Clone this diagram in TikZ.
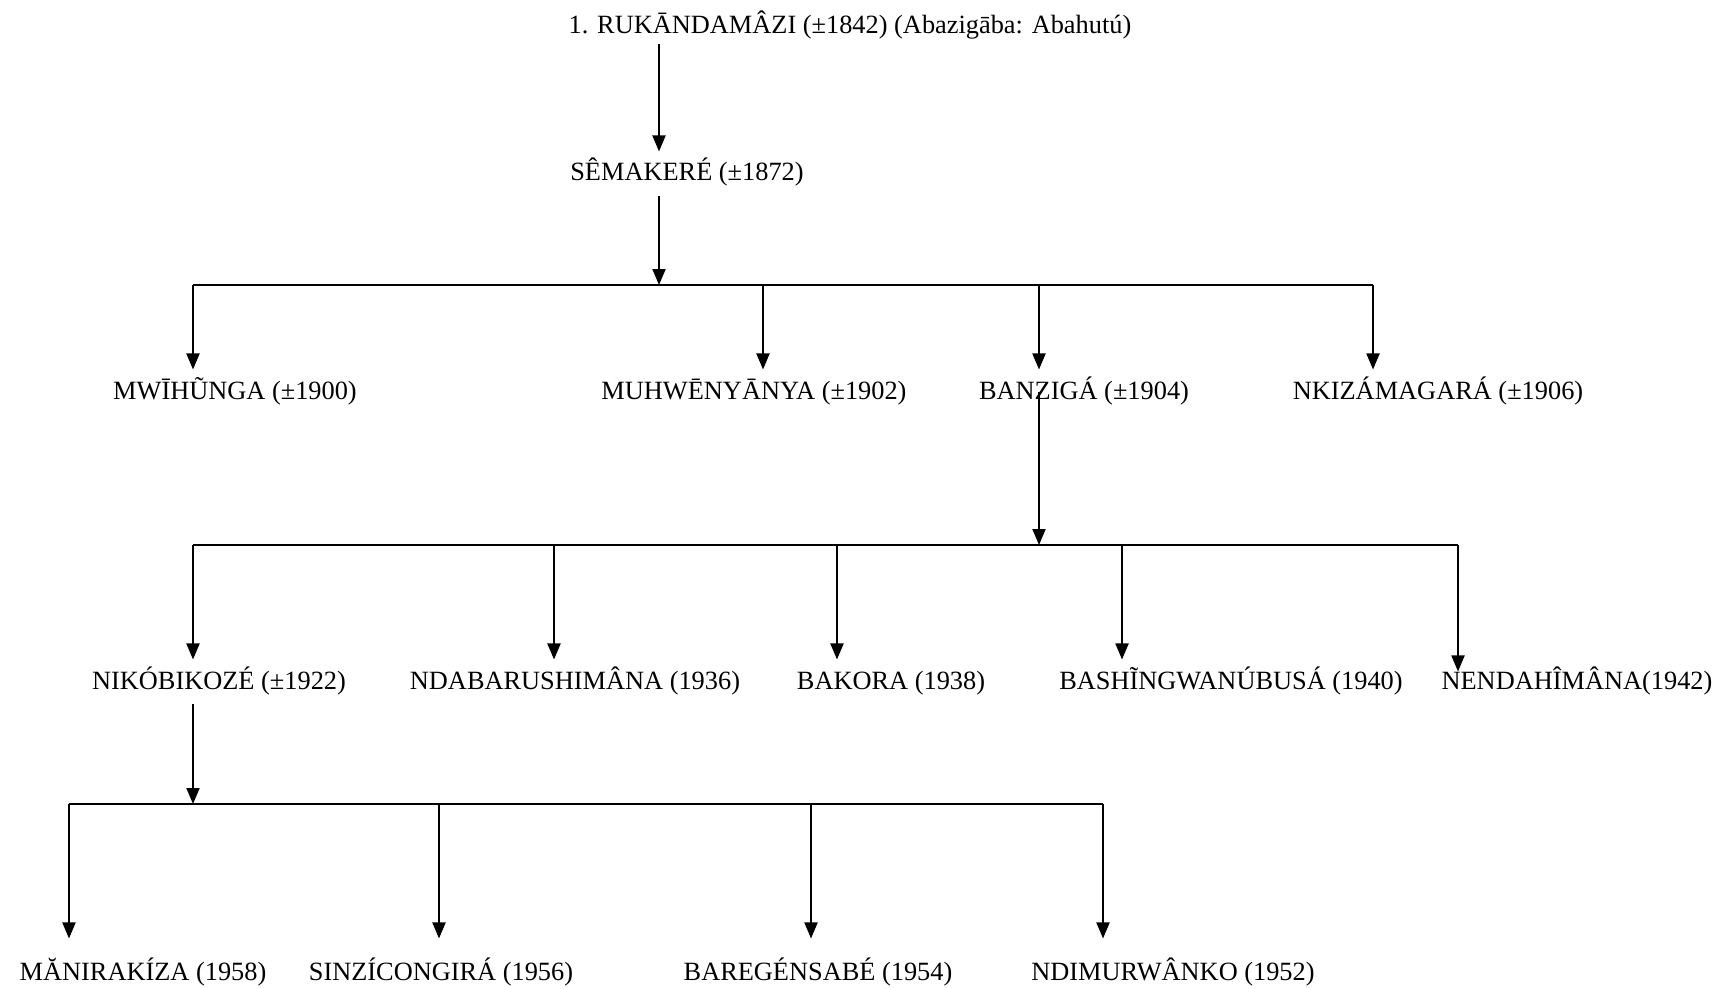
\documentclass[tikz,border=0pt]{standalone}
\usepackage{fontspec}
\setmainfont{Liberation Serif}
\usetikzlibrary{arrows.meta, positioning, calc}
\tikzset{
  person/.style={anchor=base, inner xsep=2pt, inner ysep=5pt, text height=11.6pt, text depth=3.2pt,
    font=\fontsize{15}{18}\selectfont},
  arr/.style={-{Triangle[length=3.2mm, width=2.6mm]}, line width=1.1pt},
  bar/.style={line width=1.1pt},
}
\begin{document}
\begin{tikzpicture}[x=0.02cm, y=-0.02cm]
    \useasboundingbox (0,0) rectangle (1719,989);
    % generations
    \node[person] (ruka) at (850,34) {1. RUKĀNDAMÂZI (±1842) (Abazigāba: Abahutú)};
    \node[person] (sema) at (687,181) {SÊMAKERÉ (±1872)};
    \node[person] (mwih) at (235,399) {MWĪHŨNGA (±1900)};
    \node[person] (muhw) at (754,399) {MUHWĒNYĀNYA (±1902)};
    \node[person] (banz) at (1084,399) {BANZIGÁ (±1904)};
    \node[person] (nkiz) at (1438,399) {NKIZÁMAGARÁ (±1906)};
    \node[person] (niko) at (219,689) {NIKÓBIKOZÉ (±1922)};
    \node[person] (ndab) at (575,689) {NDABARUSHIMÂNA (1936)};
    \node[person] (bako) at (891,689) {BAKORA (1938)};
    \node[person] (bash) at (1231,689) {BASHĨNGWANÚBUSÁ (1940)};
    \node[person] (nend) at (1577,689) {NENDAHÎMÂNA(1942)};
    \node[person] (mani) at (143,980) {MĂNIRAKÍZA (1958)};
    \node[person] (sinz) at (441,980) {SINZÍCONGIRÁ (1956)};
    \node[person] (bare) at (818,980) {BAREGÉNSABÉ (1954)};
    \node[person] (ndim) at (1173,980) {NDIMURWÂNKO (1952)};
    % bar points
    \coordinate (j1) at (659,285);
    \coordinate (d11) at (193,285);
    \coordinate (d12) at (763,285);
    \coordinate (d13) at (1039,285);
    \coordinate (d14) at (1373,285);
    \coordinate (j2) at (1039,545);
    \coordinate (d21) at (193,545);
    \coordinate (d22) at (554,545);
    \coordinate (d23) at (837,545);
    \coordinate (d24) at (1122,545);
    \coordinate (d25) at (1458,545);
    \coordinate (j3) at (193,804);
    \coordinate (d31) at (69,804);
    \coordinate (d32) at (439,804);
    \coordinate (d33) at (811,804);
    \coordinate (d34) at (1103,804);
    % top
    \draw[arr, shorten <=-1mm] (ruka.south -| j1) -- (sema.north -| j1);
    \draw[arr] (sema.south -| j1) -- (j1);
    \draw[bar] (d11) -- (d14);
    \draw[arr] (d11) -- (d11 |- mwih.north);
    \draw[arr] (d12) -- (d12 |- muhw.north);
    \draw[arr] (d13) -- (d13 |- banz.north);
    \draw[arr] (d14) -- (d14 |- nkiz.north);
    % Banziga
    \draw[arr] (banz.center -| j2) -- (j2);
    \draw[bar] (d21) -- (d25);
    \draw[arr] (d21) -- (d21 |- niko.north);
    \draw[arr] (d22) -- (d22 |- ndab.north);
    \draw[arr] (d23) -- (d23 |- bako.north);
    \draw[arr] (d24) -- (d24 |- bash.north);
    \draw[arr, shorten >=-2.4mm] (d25) -- (d25 |- nend.north);
    % Nikobikoze
    \draw[arr] (niko.south -| j3) -- (j3);
    \draw[bar] (d31) -- (d34);
    \draw[arr, shorten >=2.4mm] (d31) -- (d31 |- mani.north);
    \draw[arr, shorten >=2.4mm] (d32) -- (d32 |- sinz.north);
    \draw[arr, shorten >=2.4mm] (d33) -- (d33 |- bare.north);
    \draw[arr, shorten >=2.4mm] (d34) -- (d34 |- ndim.north);
\end{tikzpicture}
\end{document}
